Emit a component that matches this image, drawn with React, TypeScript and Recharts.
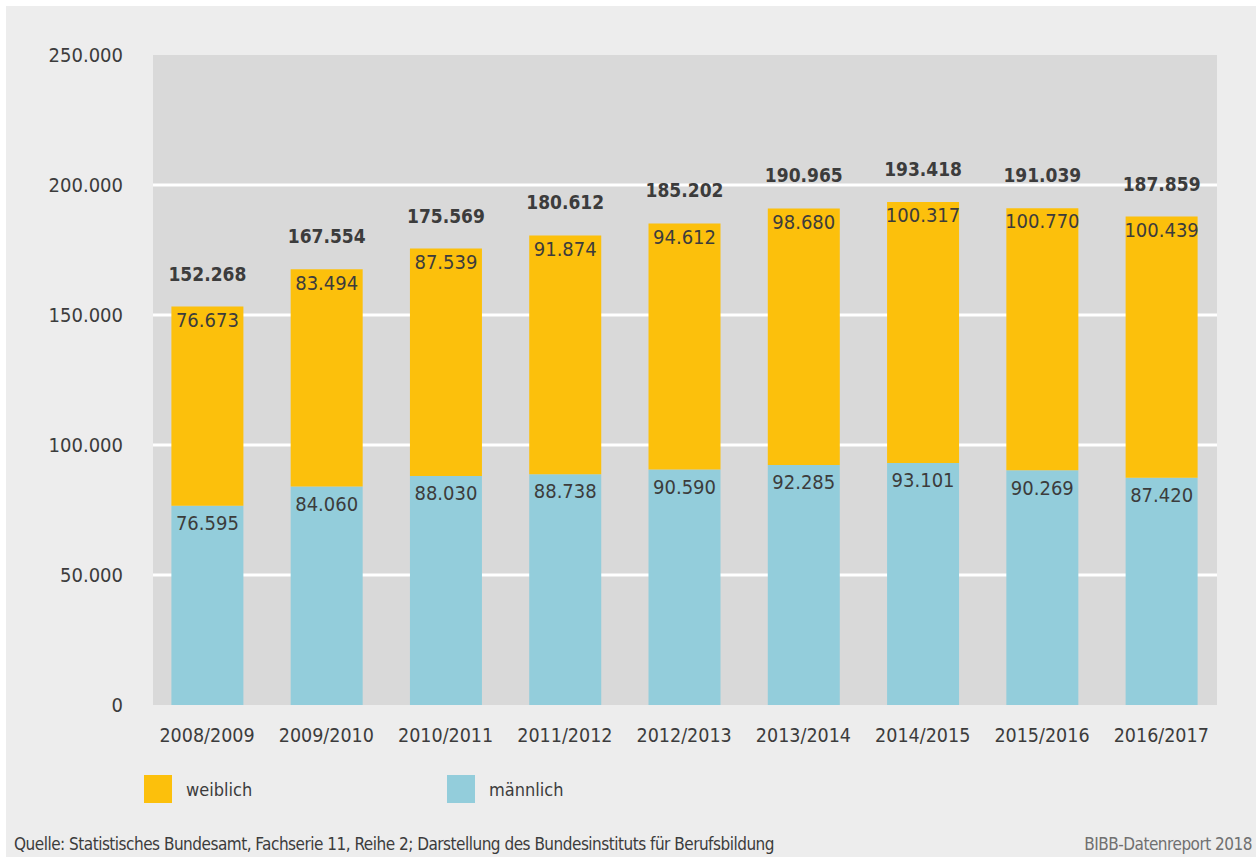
import React from 'react';
import { BarChart, Bar, XAxis, YAxis, CartesianGrid, LabelList, Legend } from 'recharts';

const categories = ['2008/2009', '2009/2010', '2010/2011', '2011/2012', '2012/2013', '2013/2014', '2014/2015', '2015/2016', '2016/2017'];
const weiblich = [76673, 83494, 87539, 91874, 94612, 98680, 100317, 100770, 100439];
const maennlich = [76595, 84060, 88030, 88738, 90590, 92285, 93101, 90269, 87420];
const totals = [152268, 167554, 175569, 180612, 185202, 190965, 193418, 191039, 187859];
const yTicks = [0, 50000, 100000, 150000, 200000, 250000];
const gridValues = [50000, 100000, 150000, 200000];

const data = categories.map((c, i) => ({ cat: c, weiblich: weiblich[i], maennlich: maennlich[i], total: totals[i] }));

const NUM_FONT = '"DejaVu Sans Condensed", "DejaVu Sans", sans-serif';
const TEXT_FONT = '"DejaVu Sans Condensed", "DejaVu Sans", sans-serif';
const TEXT_COLOR = '#3c3c3c';
const ORANGE = '#fcc00c';
const BLUE = '#93cddb';

const fmt = (v: any) => String(v).replace(/\B(?=(\d{3})+(?!\d))/g, '.');

const TotalLabel = (props: any) => {
  const { x, y, width, value } = props;
  return (
    <text x={Number(x) + Number(width) / 2} y={Number(y) - 26} textAnchor="middle" fill={TEXT_COLOR}
      style={{ fontFamily: NUM_FONT, fontSize: 19, fontWeight: 700 }}>
      {fmt(value)}
    </text>
  );
};

const LegendContent = (props: any) => {
  const payload = [...(props.payload || [])].reverse();
  return (
    <div style={{ display: 'flex' }}>
      {payload.map((p: any) => (
        <div key={p.value} style={{ width: 303, display: 'flex', alignItems: 'center' }}>
          <div style={{ width: 28, height: 28, background: p.color }} />
          <span style={{ marginLeft: 14, fontFamily: TEXT_FONT, fontSize: 18, color: TEXT_COLOR }}>{p.value}</span>
        </div>
      ))}
    </div>
  );
};

export default function App() {
  return (
    <div style={{ position: 'fixed', left: 6, top: 6, width: 1250, height: 851, background: '#ededed' }}>
      <BarChart width={1250} height={851} data={data} margin={{ top: 49, right: 39, bottom: 122, left: 47 }}>
        <CartesianGrid vertical={false} horizontalValues={gridValues} stroke="#ffffff" strokeWidth={3}
          fill="#d9d9d9" fillOpacity={1} />
        <XAxis dataKey="cat" axisLine={false} tickLine={false} tickSize={0} tickMargin={23.5}
          padding={{ left: -5.6, right: -3.9 }} interval={0}
          tick={{ fill: TEXT_COLOR, fontSize: 19.5, fontFamily: NUM_FONT }} />
        <YAxis width={100} domain={[0, 250000]} ticks={yTicks} axisLine={false} tickLine={false} tickSize={0}
          tickMargin={30} tickFormatter={fmt} interval={0}
          tick={{ fill: TEXT_COLOR, fontSize: 20, fontFamily: NUM_FONT }} />
        <Legend layout="vertical" align="center" verticalAlign="middle" content={LegendContent}
          wrapperStyle={{ position: 'absolute', left: 138, top: 769, width: 700 }} />
        <Bar dataKey="maennlich" name="männlich" stackId="a" fill={BLUE} barSize={72} isAnimationActive={false}>
          <LabelList dataKey="maennlich" position="insideTop" offset={10} formatter={fmt}
            style={{ fill: TEXT_COLOR, fontSize: 20, fontFamily: NUM_FONT }} />
        </Bar>
        <Bar dataKey="weiblich" name="weiblich" stackId="a" fill={ORANGE} barSize={72} isAnimationActive={false}>
          <LabelList dataKey="weiblich" position="insideTop" offset={6} formatter={fmt}
            style={{ fill: TEXT_COLOR, fontSize: 20, fontFamily: NUM_FONT }} />
          <LabelList dataKey="total" content={TotalLabel} />
        </Bar>
      </BarChart>
      <div style={{ position: 'absolute', left: 8, top: 828, fontFamily: TEXT_FONT, fontSize: 17, letterSpacing: -0.5, color: TEXT_COLOR, whiteSpace: 'nowrap' }}>
        Quelle: Statistisches Bundesamt, Fachserie 11, Reihe 2; Darstellung des Bundesinstituts für Berufsbildung
      </div>
      <div style={{ position: 'absolute', right: 4, top: 828, fontFamily: TEXT_FONT, fontSize: 17, letterSpacing: -0.5, color: '#707070', whiteSpace: 'nowrap' }}>
        BIBB-Datenreport 2018
      </div>
    </div>
  );
}
